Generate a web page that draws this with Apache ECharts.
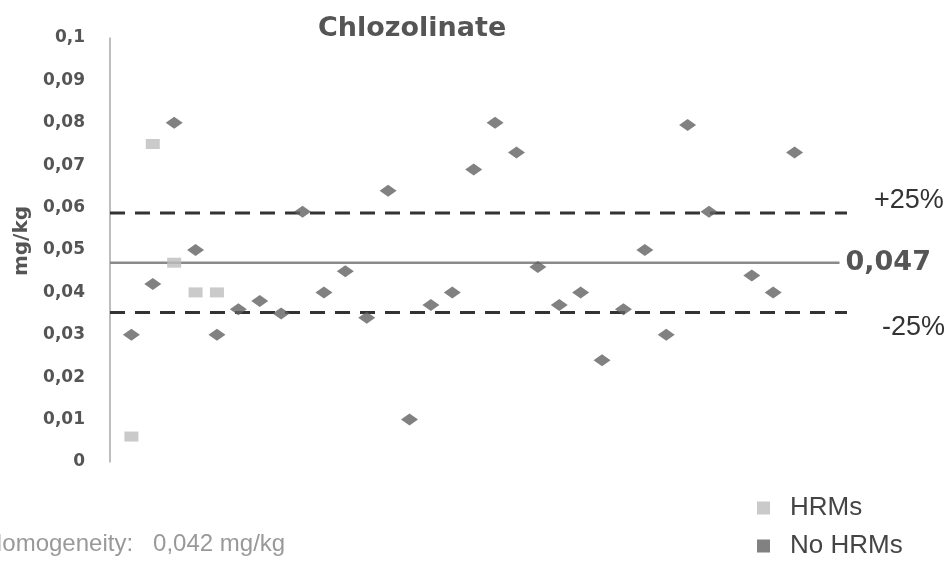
<!DOCTYPE html>
<html>
<head>
<meta charset="utf-8">
<script src="https://cdn.jsdelivr.net/npm/echarts@6/dist/echarts.min.js"></script>
<style>html,body{margin:0;padding:0;background:#fff}#c{width:950px;height:562px}</style>
</head>
<body>
<div id="c"></div>
<script>
// ---- data ----
const titleText = 'Chlozolinate';
const hrmsX = [1, 2, 3, 4, 5];
const hrmsY = [0.006, 0.075, 0.047, 0.040, 0.040];
const noHrmsX = [1, 2, 3, 4, 5, 6, 7, 8, 9, 10, 11, 12, 13, 14, 15, 16, 17, 18, 19, 20, 21, 22, 23, 24, 25, 26, 27, 28, 30, 31, 32];
const noHrmsY = [0.030, 0.042, 0.080, 0.050, 0.030, 0.036, 0.038, 0.035, 0.059, 0.040, 0.045, 0.034, 0.064, 0.010, 0.037, 0.040, 0.069, 0.080, 0.073, 0.046, 0.037, 0.040, 0.024, 0.036, 0.050, 0.030, 0.0795, 0.059, 0.044, 0.040, 0.073];
const meanValue = 0.047;
const upperValue = 0.05875;
const lowerValue = 0.03525;
const meanLabel = '0,047';
const upperLabel = '+25%';
const lowerLabel = '-25%';
const yTicks = {min: 0, max: 0.1, interval: 0.01};
const xRange = {min: 0, max: 34.45, solidEnd: 34.1};
const homogeneityText = 'Homogeneity:   0,042 mg/kg';

const chart = echarts.init(document.getElementById('c'), null, {renderer: 'canvas'});
const zip = (xs, ys) => xs.map((x, i) => [x, ys[i]]);

chart.setOption({
  animation: false,
  backgroundColor: '#ffffff',
  title: {
    text: titleText, left: 313, top: 10,
    textStyle: {fontFamily: 'DejaVu Sans', fontWeight: 'bold', fontSize: 27, color: '#555555'}
  },
  grid: {left: 110, right: 103, top: 38, bottom: 100},
  legend: {
    orient: 'vertical', left: 757, top: 495, padding: 0, itemWidth: 13, itemHeight: 13, itemGap: 12,
    data: [{name: 'HRMs', icon: 'rect'}, {name: 'No HRMs', icon: 'rect'}],
    textStyle: {fontFamily: 'Liberation Sans', fontSize: 26, lineHeight: 26, color: '#444444', padding: [0, 0, 0, 15]}
  },
  xAxis: {type: 'value', min: xRange.min, max: xRange.max, show: false},
  yAxis: {
    type: 'value', min: yTicks.min, max: yTicks.max, interval: yTicks.interval,
    name: 'mg/kg', nameLocation: 'middle', nameRotate: 90, nameGap: 75,
    nameTextStyle: {fontFamily: 'DejaVu Sans', fontWeight: 'bold', fontSize: 20, color: '#555555', padding: [0, 0, 0, 18]},
    axisLine: {show: true, lineStyle: {color: '#a8a8a8', width: 1.5}},
    axisTick: {show: false},
    splitLine: {show: false},
    axisLabel: {
      margin: 25, fontFamily: 'DejaVu Sans', fontWeight: 'bold', fontSize: 17, color: '#555555',
      formatter: v => String(+v.toFixed(3)).replace('.', ',')
    }
  },
  series: [
    {
      name: 'Mean', type: 'line', data: [[xRange.min, meanValue], [xRange.solidEnd, meanValue]],
      symbol: 'none', lineStyle: {color: '#8a8a8a', width: 2.5}, z: 1,
      endLabel: {show: true, formatter: meanLabel, offset: [-2, 0], fontFamily: 'DejaVu Sans', fontWeight: 'bold', fontSize: 27, color: '#555555'}
    },
    {
      name: 'Upper', type: 'line', data: [[xRange.min, upperValue], [xRange.max, upperValue]],
      symbol: 'none', lineStyle: {color: '#333333', width: 3, type: [15, 10]}, z: 1,
      endLabel: {show: true, formatter: upperLabel, offset: [19, -12], fontFamily: 'Liberation Sans', fontSize: 27, color: '#333333'}
    },
    {
      name: 'Lower', type: 'line', data: [[xRange.min, lowerValue], [xRange.max, lowerValue]],
      symbol: 'none', lineStyle: {color: '#333333', width: 3, type: [15, 10]}, z: 1,
      endLabel: {show: true, formatter: lowerLabel, offset: [27, 15], fontFamily: 'Liberation Sans', fontSize: 27, color: '#333333'}
    },
    {
      name: 'HRMs', type: 'scatter', data: zip(hrmsX, hrmsY), symbol: 'rect', symbolSize: [14, 10],
      itemStyle: {color: '#bdbdbd'}, z: 3
    },
    {
      name: 'No HRMs', type: 'scatter', data: zip(noHrmsX, noHrmsY), symbol: 'diamond', symbolSize: [17, 12],
      itemStyle: {color: '#626262'}, z: 3
    }
  ],
  graphic: [{
    type: 'text', left: -15, top: 532,
    style: {text: homogeneityText, fontFamily: 'Liberation Sans', fontSize: 24, fill: '#999999'}
  }]
});
</script>
</body>
</html>
